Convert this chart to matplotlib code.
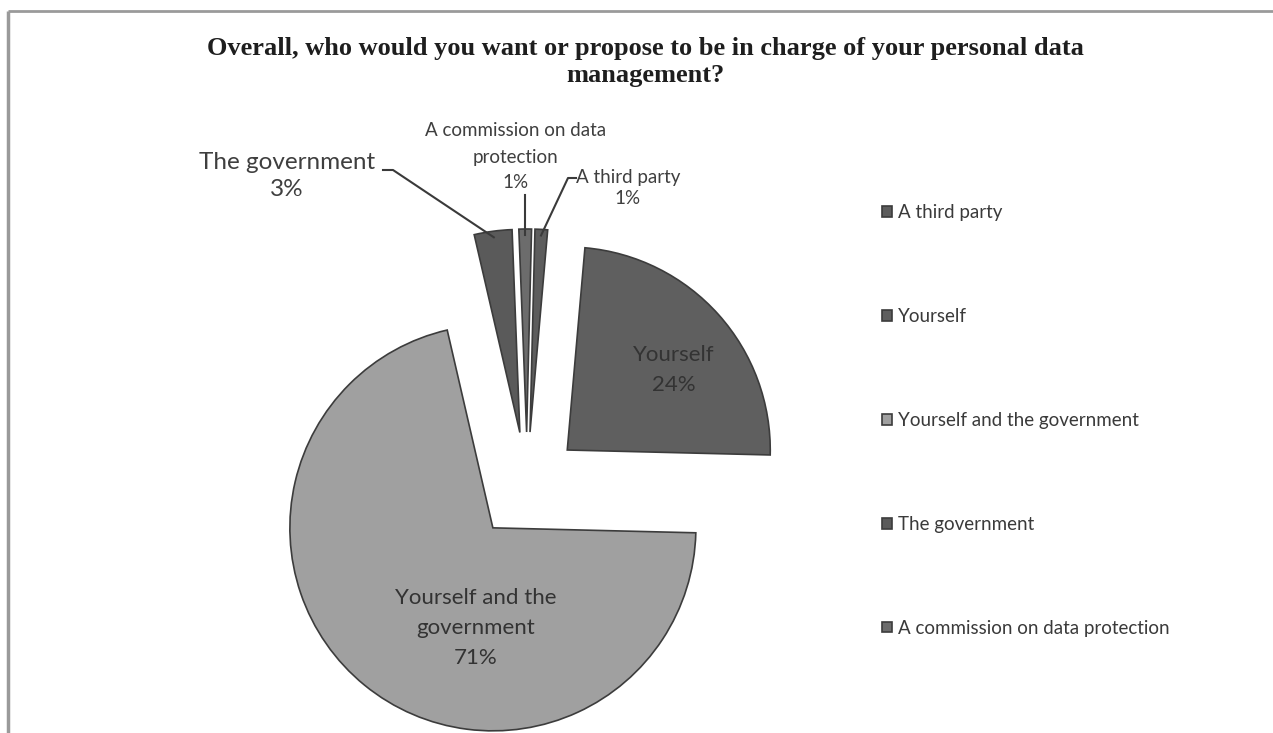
import matplotlib
matplotlib.use("Agg")
import matplotlib.pyplot as plt
import numpy as np

# ---- data ----
categories = ["A third party", "Yourself", "Yourself and the government",
              "The government", "A commission on data protection"]
values = [1, 24, 71, 3, 1]
slice_labels = ["A third party\n1%", "Yourself\n24%", "Yourself and the\ngovernment\n71%",
                "The government\n3%", "A commission on data\nprotection\n1%"]
colors = ["#5d5d5d", "#5f5f5f", "#a0a0a0", "#5a5a5a", "#6c6c6c"]
title = "Overall, who would you want or propose to be in charge of your personal data\nmanagement?"

W, H = 1273, 733
fig = plt.figure(figsize=(W / 100, H / 100), dpi=100)
fig.patch.set_facecolor("white")
ax = fig.add_axes([0, 0, 1, 1])

def Y(y):
    return H - y

R = 203
explode_frac = 0.266
center = (527, Y(486))
wedges, _ = ax.pie(values, colors=colors, radius=R, center=center,
                   startangle=88.6, counterclock=False,
                   explode=[explode_frac * R] * len(values),
                   wedgeprops=dict(edgecolor="#3c3c3c", linewidth=1.2))
ax.set_xlim(0, W)
ax.set_ylim(0, H)
ax.set_aspect("equal")
ax.axis("off")

# frame lines of the original chart area
ax.plot([8, 8], [Y(11), 0], color="#9a9a9a", lw=2.5, solid_capstyle="butt")
ax.plot([8, W], [Y(11), Y(11)], color="#9a9a9a", lw=2, solid_capstyle="butt")

# title
ax.text(645, Y(62), title, ha="center", va="center", family="Liberation Serif",
        fontweight="bold", fontsize=19, color="#1e1e1e", linespacing=1.25)

lab_font = "Lato"
txt_col = "#3f3f3f"

def arc_mid(w, frac=0.97):
    th = np.deg2rad((w.theta1 + w.theta2) / 2)
    cx, cy = w.center
    return cx + w.r * frac * np.cos(th), cy + w.r * frac * np.sin(th)

# inside labels
ax.text(674, Y(370), slice_labels[1], ha="center", va="center", family=lab_font,
        fontsize=16, color="#333333", linespacing=1.6)
ax.text(476, Y(628), slice_labels[2], ha="center", va="center", family=lab_font,
        fontsize=16, color="#333333", linespacing=1.6)

# outside labels with leader lines
# The government
ax.text(287, Y(176), slice_labels[3], ha="center", va="center", family=lab_font,
        fontsize=17.5, color=txt_col, linespacing=1.3)
px, py = arc_mid(wedges[3])
ax.plot([383, 393, px], [Y(170), Y(170), py], color="#3a3a3a", lw=1.5)

# commission (one text per line)
for line, yy in zip(slice_labels[4].split("\n"), [131, 157, 182]):
    ax.text(516, Y(yy), line, ha="center", va="center", family=lab_font,
            fontsize=13.5, color=txt_col)
px, py = arc_mid(wedges[4])
ax.plot([px, px], [Y(195), py], color="#3a3a3a", lw=1.5)

# third party
for line, yy in zip(slice_labels[0].split("\n"), [178, 199]):
    ax.text(628, Y(yy), line, ha="center", va="center", family=lab_font,
            fontsize=13.5, color=txt_col)
px, py = arc_mid(wedges[0])
ax.plot([576, 568, px], [Y(178), Y(178), py], color="#3a3a3a", lw=1.5)

# legend
leg = ax.legend(wedges, categories, loc="upper left", bbox_to_anchor=(873 / W, 1 - 195 / H),
                frameon=False, prop=dict(family=lab_font, size=13.5),
                labelspacing=4.63, handlelength=0.5, handleheight=0.5,
                handletextpad=0.35, borderpad=0, labelcolor="#3a3a3a")

fig.savefig("out.png", dpi=100, facecolor="white")
